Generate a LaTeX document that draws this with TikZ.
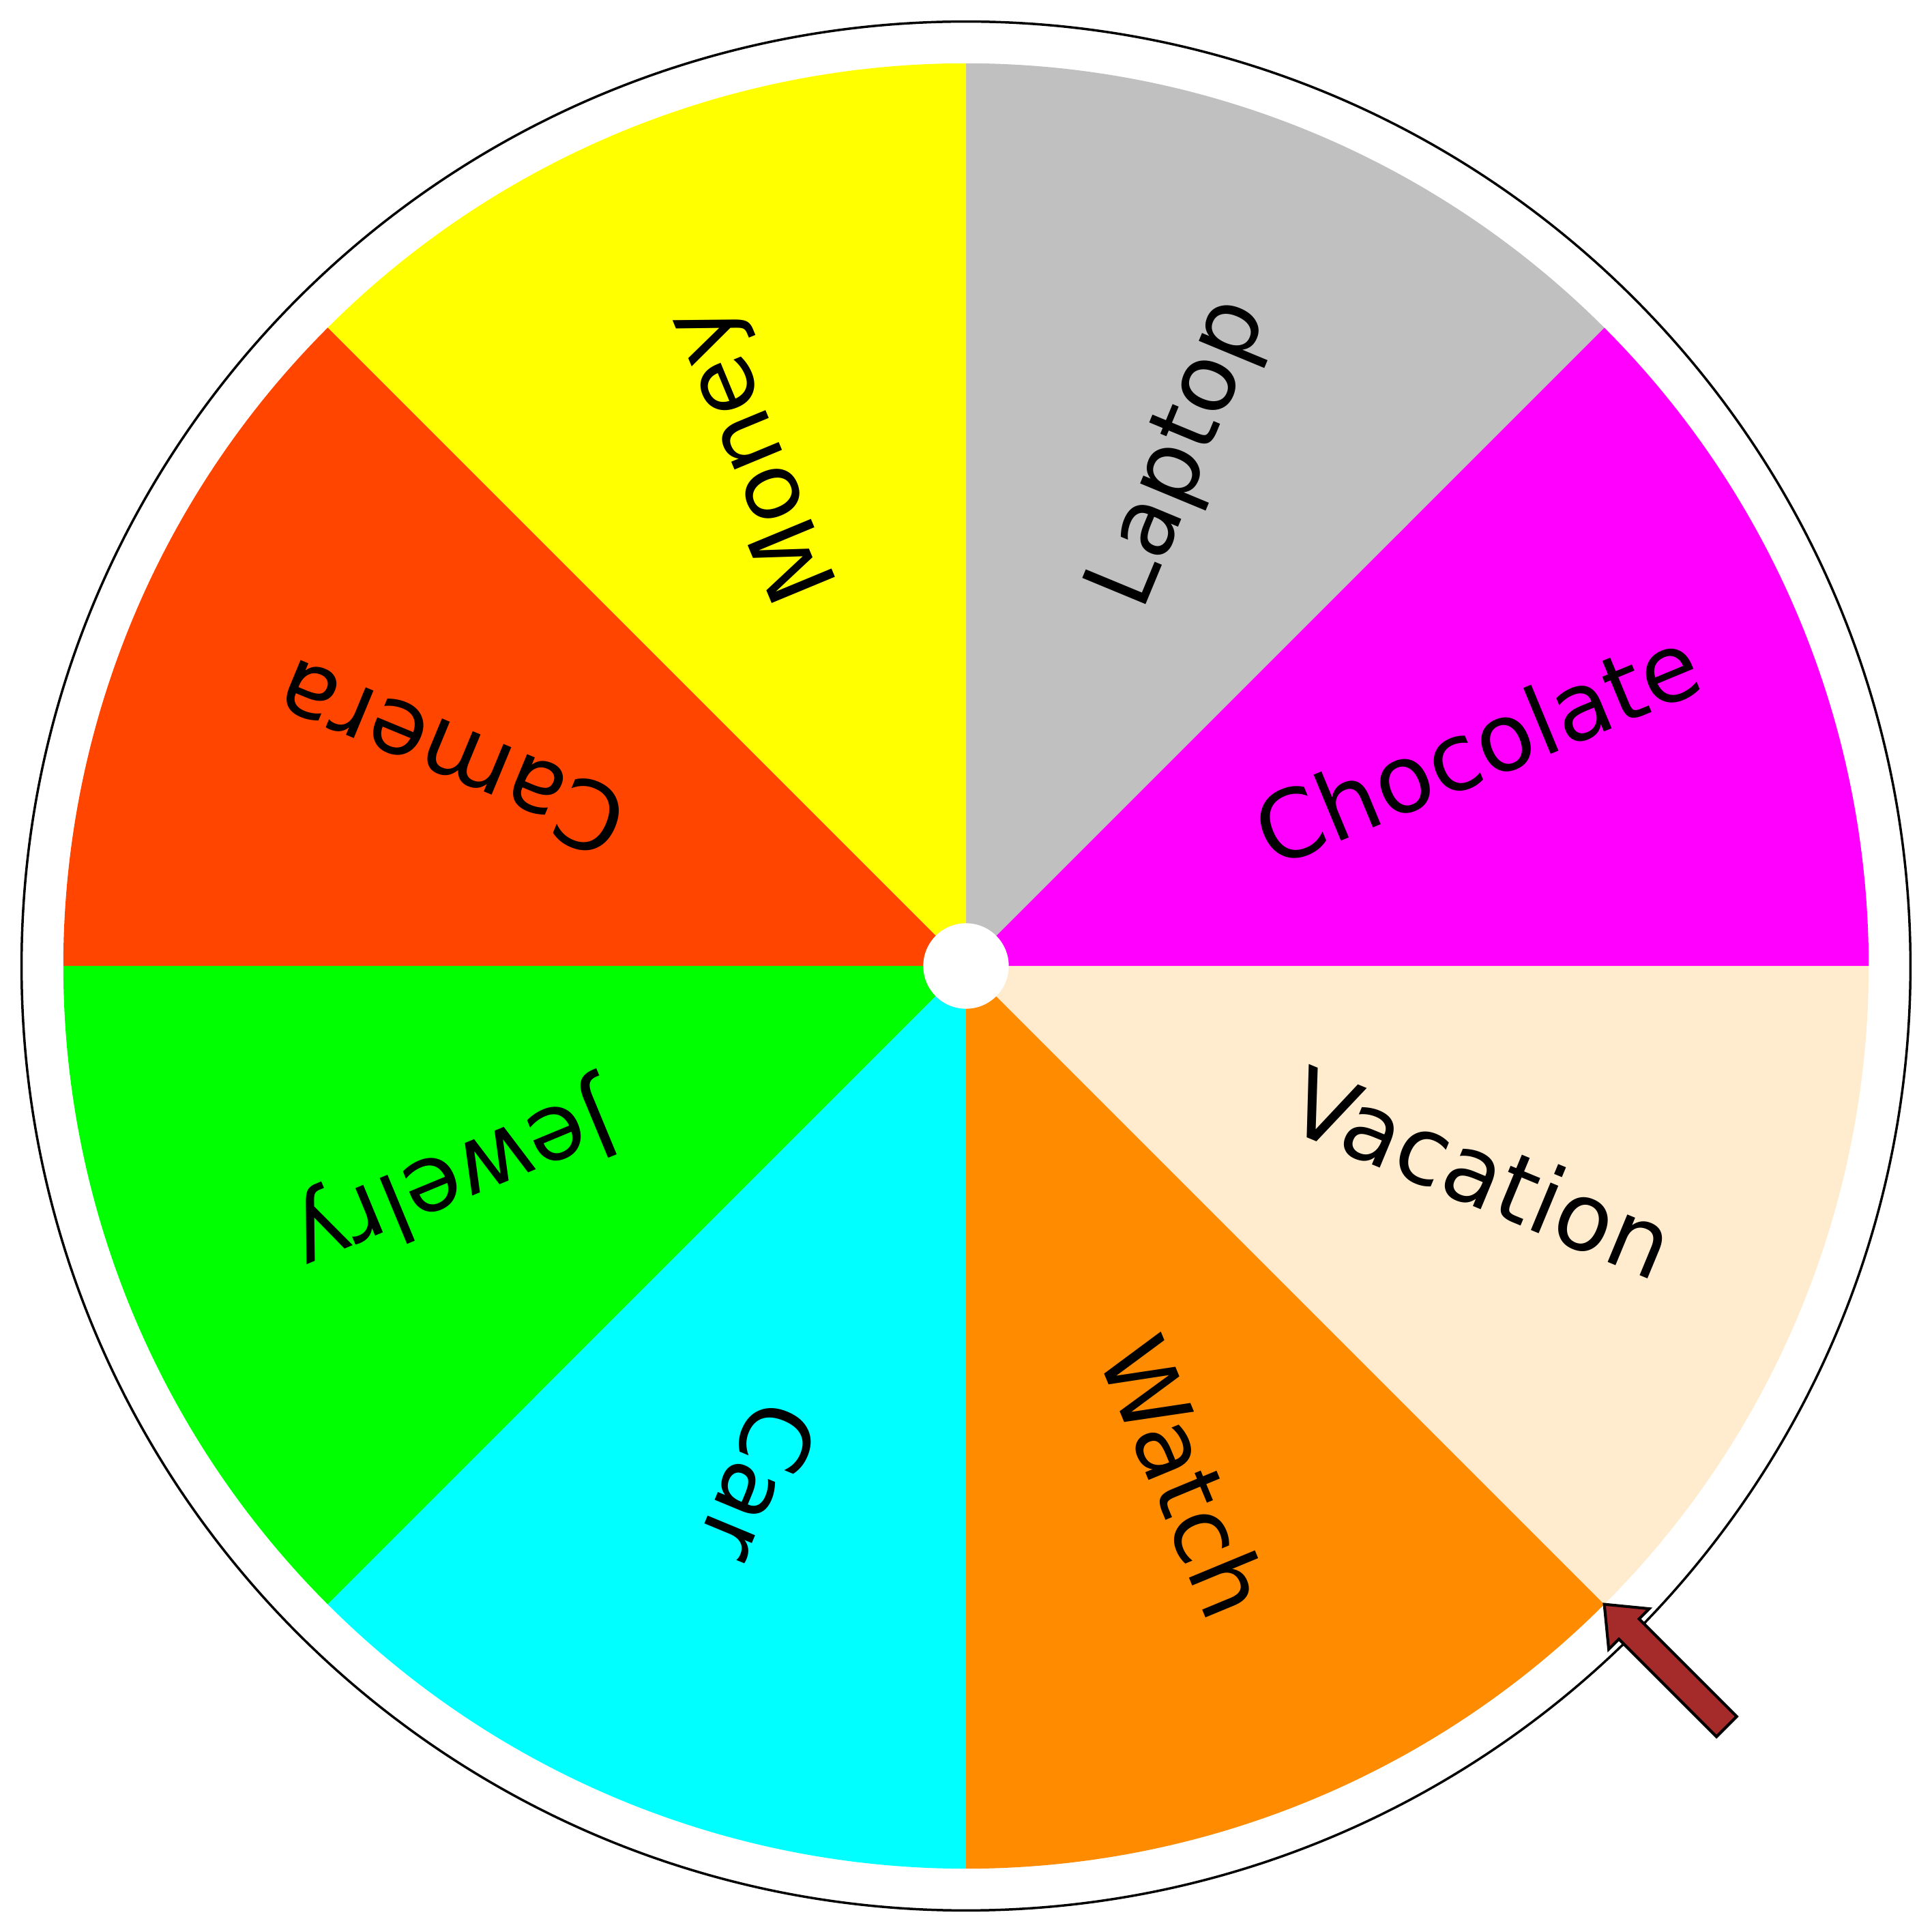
\documentclass[tikz,border=0pt]{standalone}
\usepackage{fontspec}
\setmainfont{DejaVu Sans}
\definecolor{cChoc}{HTML}{FF00FF}
\definecolor{cLap}{HTML}{C0C0C0}
\definecolor{cMon}{HTML}{FFFF00}
\definecolor{cCam}{HTML}{FF4500}
\definecolor{cJew}{HTML}{00FF00}
\definecolor{cCar}{HTML}{00FFFF}
\definecolor{cWat}{HTML}{FF8C00}
\definecolor{cVac}{HTML}{FFEBCD}
\definecolor{cArrow}{HTML}{A52A2A}
\tikzset{
  prize/.style={font=\fontsize{21.7}{26}\selectfont, inner sep=0pt, anchor=mid},
  rim/.style={draw=black, line width=0.55pt},
  pointer/.style={fill=cArrow, draw=black, line width=0.65pt, line join=miter}
}
\begin{document}
\begin{tikzpicture}
\useasboundingbox (-7.84,-7.84) rectangle (7.84,7.84);
\fill[white] (-7.84,-7.84) rectangle (7.84,7.84);
\def\R{7.326}
\def\rt{4.51}
\draw[rim] (0,0) circle[radius=7.665];
\foreach \a/\c in {0/cChoc,45/cLap,90/cMon,135/cCam,180/cJew,225/cCar,270/cWat,315/cVac}{
  \fill[\c] (0,0) -- (\a:\R) arc[start angle=\a, end angle=\a+45, radius=\R] -- cycle;
}
\fill[white] (0,0) circle[radius=0.347];
\foreach \t/\n/\w in {22.5/choc/Chocolate,67.5/lap/Laptop,112.5/mon/Money,157.5/cam/Camera,
  202.5/jew/Jewelry,247.5/car/Car,292.5/wat/Watch,337.5/vac/Vacation}{
  \begin{scope}[rotate=\t]
    \node[prize, rotate=\t] (\n) at (\rt,-0.13) {\w};
  \end{scope}
}
\coordinate (tip) at (-45:\R);
\begin{scope}[shift={(tip)}, rotate=-45]
\draw[pointer] (0,0) -- (0.284,0.233) -- (0.284,0.116) -- (1.404,0.116)
  -- (1.404,-0.116) -- (0.284,-0.116) -- (0.284,-0.233) -- cycle;
\end{scope}
\end{tikzpicture}
\end{document}
